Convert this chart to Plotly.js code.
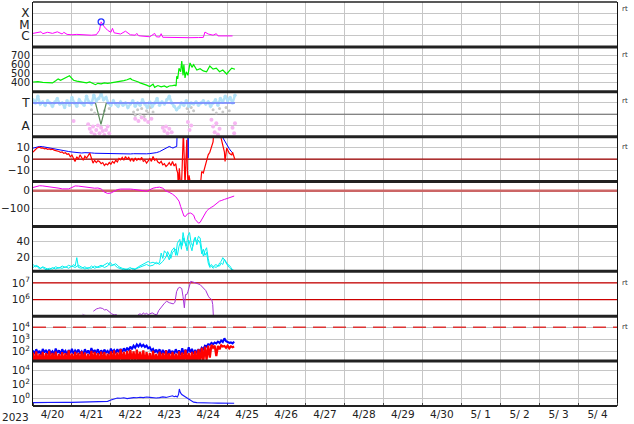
<!DOCTYPE html>
<html><head><meta charset="utf-8">
<script src="https://cdn.plot.ly/plotly-3.0.1.min.js"></script>
<style>html,body{margin:0;padding:0;background:#fff}#chart{width:634px;height:424px}</style>
</head><body><div id="chart"></div>
<script>
// ---- time: hours since 2023-04-20 00:00 ----
const startDate = '2023-04-20';
const endDate = '2023-05-05';
const yearLabel = '2023';

// Panel 1: X-ray flux (W/m2)
const xrayH = [0,3,5,6,9,12,15,18,19,21,24,27,30,33,36,39,41,42,44,46,48,49,50,54,57,60,63,64,65,66,69,72,75,76,78,79,80,84,90,96,102,105,106,108,111,113,114,117,120,123];
const xrayV = [1.6e-6,1.8e-6,2.2e-6,1.5e-6,2.0e-6,1.6e-6,2.2e-6,1.4e-6,2.0e-6,1.3e-6,1.2e-6,1.3e-6,1.2e-6,1.1e-6,1.1e-6,1.2e-6,3e-6,1.7e-5,6e-6,3e-6,2e-6,4.5e-6,1.8e-6,1.4e-6,2.5e-6,1.2e-6,1.1e-6,1.6e-6,1.0e-6,0.95e-6,0.9e-6,0.8e-6,1.6e-6,0.8e-6,0.75e-6,1.5e-6,0.72e-6,0.68e-6,0.66e-6,0.66e-6,0.68e-6,0.7e-6,2.1e-6,1.4e-6,1.1e-6,1.5e-6,0.95e-6,0.92e-6,0.9e-6,0.95e-6];
const flareH = [42];
const flareV = [1.7e-5];
const xrayTicks = [1e-6,1e-5,1e-4];
const xrayClasses = ['C','M','X'];

// Panel 2: solar wind speed (km/s)
const windH = [0,3,6,9,12,14,15.5,17,19,21,22.5,23.5,25,27,29,31,33,35,37,38.5,40,42,44,46,48,50,52,54,56,58,60,61,63,65,66,68,70,72,74,75,77,79,81,82.5,84,86,87.5,88.2,88.6,89.2,90,91,91.7,92.5,93,93.7,94.5,95.5,96.8,98,99,101,103,105,107,109,111,113,115,117,119.4,121,122.5,124.5];
const windV = [405,410,400,400,395,420,440,425,445,460,475,455,425,415,410,400,395,405,390,375,390,385,395,390,395,400,405,410,420,430,445,430,420,405,395,385,370,355,380,345,365,350,360,345,360,365,370,360,470,440,560,520,640,480,600,450,520,480,620,570,600,540,555,530,520,585,550,560,520,540,495,530,560,548];

// Panel 3: IMF sector (T / A)
const imfH = [0,1.5,3,4.5,6,7.5,9,10.5,12,13.5,15,16.5,18,19.5,21,22.5,24,25.5,27,28.5,30,31.5,33,34.5,36,37.5,39,40.5,42,43.5,45,46.5,48,49.5,51,52.5,54,55.5,57,58.5,60,61.5,63,64.5,66,67.5,69,70.5,72,73.5,75,76.5,78,79.5,81,82.5,84,85.5,87,88.5,90,91.5,93,94.5,96,97.5,99,100.5,102,103.5,105,106.5,108,109.5,111,112.5,114,115.5,117,118.5,120,121.5,123,124.5];
const imfV = [3.3,3.0,3.6,2.9,3.1,2.8,3.2,3.0,2.7,3.1,3.4,2.9,3.0,2.6,3.2,2.8,3.5,3.0,2.7,3.3,3.0,2.8,3.6,3.1,2.9,3.7,3.2,3.4,3.8,3.3,3.5,3.0,2.8,3.2,2.9,2.7,3.1,2.8,3.0,2.6,2.9,3.2,2.7,3.0,2.8,3.3,2.9,2.6,3.1,2.7,3.0,3.4,2.8,3.1,2.9,3.3,3.6,3.0,2.7,2.4,2.6,3.0,2.8,3.2,2.7,3.0,2.9,3.1,2.8,3.0,3.2,2.9,3.1,2.7,3.0,3.3,2.8,3.4,3.1,3.6,3.2,3.5,3.0,3.7];
const sectorH = [0,38.5,40,45.2,124.5];
const sectorV = [3,3,null,3,3];
const dipH = [38.5,41.9,45.2];
const dipV = [3,1.1,3];
const greyH = [36,38,44,47,62,63,64.5,66,67,68.5,70,71,72.5,74,95,96,97.5,99,111,113,115,117,119,121];
const greyV = [2.4,2.1,2.3,2.5,2.2,1.9,2.4,2.0,2.5,1.8,2.3,2.1,2.6,2.2,2.5,2.2,2.6,2.3,2.4,2.1,2.5,2.2,2.6,2.3];
const pinkH = [25,34,35,36,37,38,39,40,41,42,43,44,45,46,47,63,65,67,69,71,73,80,81,82,83,84,85.5,95.5,96.5,97.5,110,111,112,113,114,115,123,124,124.5];
const pinkV = [1.4,1.1,0.7,0.4,0.9,0.2,0.6,1.0,0.3,0.8,0.5,0.15,0.6,0.9,0.3,1.6,1.4,1.7,1.5,1.3,1.6,0.8,0.5,0.9,0.3,0.7,0.4,1.3,0.6,1.0,1.5,0.9,0.4,1.2,0.2,0.7,0.8,0.3,1.2];
const sectorBoundary = 2;

// Panel 4: IMF Bt / Bz (nT)
const btH = [0,2,4,6,8,10,12,14,16,18,20,22,24,26,28,30,32,34,36,38,40,42,44,46,48,50,52,54,56,58,60,62,64,66,68,70,72,74,76,78,80,82,84,85.5,86.3,87.5,88.6,88.9,90,92,94,95.4,95.6,95.8,98,100,102,104,106,108,110,112,114,116,117.5,119.4,121,122,123.3];
const btV = [9.5,10.5,11,10.8,10.2,9.8,9.2,8.6,8.1,7.5,7,6.6,6.2,5.8,5.4,5.3,5.6,5.8,5.4,5.1,5.0,4.8,4.7,4.6,4.8,4.5,4.7,4.6,4.4,4.6,4.5,4.7,4.6,4.4,4.5,4.6,4.8,5.0,5.6,6.5,8,9.5,11,10,9.6,10.5,11,25,27,30,28,26,1,26,28,30,29,28,27,26,25,24,23,21,17,12.4,9,7,5.2];
const bzH = [0,1,2,3,4,5,6,7,8,9,10,11,12,13,14,15,16,17,18,19,20,21,22,23,24,25,25.9,27,28,29,30,31,32,33,34,35,36,37,38,39,40,41,42,43,44,45,46,47,48,49,50,51,52,53,54,55,56,57,58,59,60,61,62,63,64,65,66,67,68,69,70,71,72,73,74,75,76,77,78,79,80,81,82,83,84,85,86,87,88,88.6,89.2,89.6,90.2,90.8,91.5,92,92.7,93.2,93.7,94.3,94.8,95.2,95.6,96.2,96.8,97.5,103,104,105,106,107,108,109,110,111,111.5,115.3,116,117.3,118,118.4,119,119.4,120,121,122,122.5,123,124,124.5];
const bzV = [6,8,9,10,10.4,9.5,9.8,9,9.3,8.5,8.8,8.2,8.7,7.8,7.5,7,6.6,5.8,6.2,5,5.5,4.2,4.6,2,3.5,0.5,-2.1,2,0,3.7,1,-1,2.5,0.9,3,5.2,1,-3.5,-1,-3,-1.5,-2.1,-4,-3,-5.5,-4,-5,-3,-4.5,-2,-3.5,-1,-2.5,0.5,-0.6,1.5,-1,2.3,0,1.5,-1.5,0.5,-2.1,1,-1,0.5,-0.6,1.5,-2,-1,-3.5,-1,0.5,-2,2.3,-1,0,-2.5,-3.5,-2,-5,-4,-6.4,-5,-3,-5.5,-2.1,-6,-4,-9.3,-12,-25,-8,-20,-25,-5,25,2,-25,0,16.8,-10,-25,-14,-18,-25,-25,-10.8,-12,-6.4,-2,3.7,6,11,15,25,25,18,11,6,-2,8,9.6,8,5,4,3.7,6,2,-0.6];

// Panel 5: Dst (nT)
const dstH = [0,2,4,6,8,10,12,14,16,18,20,22,24,26,28,30,32,34,36,38,40,42,44,46,48,50,52,54,56,58,60,62,64,66,68,70,72,74,76,78,80,82,84,86,88,90,91,92,93,94,95,96,97,98,99,100,101,102,103,104,105,106,107,108,109,110,111,112,113,114,115,116,117,118,119,120,121,122,123,124];
const dstV = [18,24,28,27,25,22,21,18,14,10,9,10,18,27,26,24,20,16,15,14,15,10,-8,-16,-14,-2,6,9,10,10,9,7,6,5,0,-4,5,14,18,20,14,-2,-10,-20,-35,-60,-90,-120,-145,-148,-135,-130,-128,-133,-140,-165,-178,-186,-182,-165,-145,-128,-117,-108,-100,-95,-90,-82,-75,-68,-60,-57,-52,-50,-47,-43,-40,-36,-33,-31];

// Panel 6: cyan index (two series)
const cyanAH = [0,1.5,3,4.5,6,8,10,12,14,16,18,20,22,24,25,26,27,28,30,32,34,36,38,40,42,44,46,47.5,49,51,53,55,57,59,61,63,65,67,69,71,72.5,74,76,78,79,80,81,82.5,84,85.5,87,88,89,90.5,91.5,92.5,93.5,94.5,95.5,96.5,97.5,98.5,99.5,101,102,103,104,105,106,107,108,109,110,111,112,113,114,115,116,117,118,119,120,121,122,123,124];
const cyanAV = [10,7,8,5,6,3,5,4,7,5,8,6,9,7,10,8,19,6,5,7,4,8,5,7,9,6,8,13,9,11,7,5,4,3,5,4,7,9,11,14,12,13,11,12,25,18,28,24,16,28,32,22,38,43,30,52,40,34,48,52,38,34,44,40,47,45,30,21,28,32,18,8,10,7,9,10,7,12,14,19,16,14,10,9,6,3,2];
const cyanBH = [0,2,4,6,8,10,12,14,16,18,20,22,24,26,28,30,32,34,36,38,40,42,44,46,48,50,52,54,56,58,60,62,64,66,68,70,72,74,76,78,80,82,83,84,85,86,88,89,90,91,92,93,94,95,96,97,98,99,100,101,102,103,104,105,106,107,108,109,110,111,112,113,114,115,116,117,118,119,120,121,122,123];
const cyanBV = [6,9,4,7,5,3,6,4,6,5,7,5,8,6,9,6,4,6,5,8,6,7,10,12,8,10,6,4,3,4,6,3,5,6,8,10,8,9,13,10,14,20,27,22,18,26,30,22,34,40,35,45,38,28,42,36,28,40,46,36,42,38,24,30,22,26,12,6,8,5,7,6,9,8,12,10,17,12,8,6,4,2];

// Panel 7: electron flux
const elecH = [30.6,31.5,32.1,34,37.2,38,39.3,40.5,41.3,43,44,45.4,46.5,47.5,48.5,50,51.6,58,64.9,66,67,68,69,70,71,72.1,73.5,75,76.3,77.5,79.3,81,82.4,84,86.5,87.5,88.5,89.6,90.5,91.7,92.5,93.3,94,94.8,95.5,96.5,97.2,98.5,100.9,103,105,106.5,108.1,109,110.2,110.8,111.2];
const elecV = [1.3e5,1.1e5,1.2e5,null,2e5,2.3e5,2.8e5,3.0e5,3.2e5,2.9e5,2.4e5,2.5e5,2.0e5,1.6e5,1.4e5,1.2e5,1.25e5,null,1.25e5,1.4e5,1.2e5,1.6e5,1.3e5,1.5e5,1.25e5,1.4e5,1.6e5,1.3e5,1.2e5,2.2e5,4e5,6e5,8e5,6.5e5,5.5e5,7e5,3e6,5e6,5.5e6,4.6e6,1.5e6,3.2e5,2.0e6,2.0e6,3e6,8e6,1.25e7,1.15e7,1.0e7,8e6,5e6,3.5e6,1.6e6,1.2e6,1e6,5e5,1e5];
const elecLevels = [1e6,1e7];

// Panel 8: particle flux (blue, red)
const p8H = [0,1,2,3,4,5,6,7,8,9,10,11,12,13,14,15,16,17,18,19,20,21,22,23,24,25,26,27,28,29,30,31,32,33,34,35,36,37,38,39,40,41,42,43,44,45,46,47,48,49,50,51,52,53,54,55,56,57,58,59,60,61,62,63,64,65,66,67,68,69,70,71,72,73,74,75,76,77,78,79,80,81,82,83,84,85,86,87,88,89,90,91,92,93,94,95,96,97,98,99,100,101,102,103,104,105,106,107,108,109,110,111,112,113,114,115,116,117,118,119,120,121,122,123,124];
const p8Blue = [120,60,150,70,110,50,160,80,130,60,
 140,70,100,55,170,75,120,60,150,80,
 110,50,130,70,160,60,120,80,140,65,
 100,55,150,70,120,60,190,80,130,70,
 150,60,120,75,140,80,110,60,170,90,
 130,70,150,85,160,90,180,100,200,120,
 250,150,300,200,380,250,400,260,350,230,
 300,180,220,120,160,80,140,70,150,60,
 130,70,120,55,140,65,110,60,150,70,
 120,50,180,60,140,70,220,80,160,60,
 130,70,150,80,200,150,300,250,400,350,
 500,400,550,450,650,500,800,600,1200,700,
 600,500,550,450,650];
const p8Red = [80,8,100,10,60,12,90,8,70,10,
 110,9,75,10,95,8,60,12,85,10,
 70,8,120,10,65,9,90,12,75,8,
 100,10,80,9,60,8,110,10,90,12,
 70,8,95,10,85,9,65,12,100,10,
 120,8,80,10,150,12,90,9,110,10,
 130,15,100,10,140,12,90,10,120,8,
 85,10,70,9,110,12,60,8,95,10,
 75,9,120,10,70,8,90,12,65,10,
 100,8,80,10,130,12,70,9,90,10,
 110,8,150,10,200,15,250,20,300,30,
 350,200,300,40,280,150,320,250,280,200,
 300,180,260,220,250];
const p8Threshold = 1e4;

// Panel 9: flux (blue)
const p9H = [0,4,8,12,16,20,24,28,32,36,40,44,46,48,50,52,54,56,58,60,62,64,66,68,70,72,74,76,78,80,82,84,86,87,88,89,89.7,90.2,90.8,91.7,93,94.8,96,97.8,99,101,104,107,110,114,118,122,124];
const p9V = [0.3,0.32,0.3,0.33,0.31,0.34,0.32,0.33,0.35,0.34,0.36,0.38,0.45,0.7,1.0,1.3,1.2,1.4,1.1,1.3,1.5,1.4,1.7,1.5,1.8,1.6,1.4,1.3,1.5,1.9,1.6,2.2,2.7,2.0,2.4,1.8,4,24,8,4,2.5,1.3,0.9,0.45,0.35,0.3,0.27,0.25,0.26,0.25,0.24,0.25,0.24];

// ---------------- drawing ----------------
const NP = 9;
const T0 = Date.UTC(2023, 3, 20);
function toTime(hours) { return hours.map(h => T0 + h * 3600000); }
const FONT = 'DejaVu Sans, sans-serif';
const GRID = '#c6c6c6';
const traces = [];
function add(h, y, ax, color, width, extra) {
  traces.push(Object.assign({type:'scatter', mode:'lines', x:toTime(h), y:y, xaxis:'x', yaxis:ax,
    line:{color:color, width:width}, hoverinfo:'skip', connectgaps:false}, extra || {}));
}
function hline(v, ax, color, width, dash) {
  traces.push({type:'scatter', mode:'lines', x:[startDate, endDate], y:[v, v], xaxis:'x', yaxis:ax,
    line:{color:color, width:width, dash:dash || 'solid'}, hoverinfo:'skip'});
}
function dots(h, y, ax, color, size) {
  traces.push({type:'scatter', mode:'markers', x:toTime(h), y:y, xaxis:'x', yaxis:ax,
    marker:{color:color, size:size, line:{width:0}}, hoverinfo:'skip'});
}

// panel 1
add(xrayH, xrayV, 'y', '#ff00ff', 1);
traces.push({type:'scatter', mode:'markers', x:toTime(flareH), y:flareV, xaxis:'x', yaxis:'y',
  marker:{symbol:'circle-open', size:6, color:'#2233ff', line:{width:1.3, color:'#2233ff'}}, hoverinfo:'skip'});
// panel 2
add(windH, windV, 'y2', '#00ee00', 1.2);
// panel 3
hline(sectorBoundary, 'y3', '#6a6a6a', 1);
dots(greyH, greyV, 'y3', '#c8c8c8', 3);
dots(pinkH, pinkV, 'y3', '#f6b6f2', 4);
add(imfH, imfV, 'y3', '#b2e2f8', 2.5, {mode:'lines+markers', marker:{size:3.5, color:'#b2e2f8'}});
add(sectorH, sectorV, 'y3', '#6f7cff', 1.5);
add(dipH, dipV, 'y3', '#5b8a5b', 1.2);
// panel 4
hline(0, 'y4', '#a00000', 1.2);
add(btH, btV, 'y4', '#0000ff', 1);
add(bzH, bzV, 'y4', '#ff0000', 1.2);
// panel 5
hline(0, 'y5', '#cc6666', 2.5);
add(dstH, dstV, 'y5', '#ee00ee', 1);
// panel 6
add(cyanBH, cyanBV, 'y6', '#00eeee', 1);
add(cyanAH, cyanAV, 'y6', '#00eeee', 1);
// panel 7
elecLevels.forEach(v => hline(v, 'y7', '#cc0000', 1.3));
add(elecH, elecV, 'y7', '#a633d6', 1);
// panel 8
hline(p8Threshold, 'y8', '#dd3333', 1.5, '13px,7px');
add(p8H, p8Blue, 'y8', '#0000ff', 2);
add(p8H, p8Red, 'y8', '#ff0000', 2.2);
// panel 9
add(p9H, p9V, 'y9', '#1a1aff', 1.1);

function dom(i) { return [1 - (i + 1) / NP, 1 - i / NP]; }
function yax(i, o) {
  return Object.assign({domain:dom(i), anchor:'x', showline:true, mirror:true, linecolor:'#111', linewidth:1,
    showgrid:true, gridcolor:GRID, gridwidth:1, zeroline:false, ticks:'', layer:'below traces',
    tickfont:{size:10.5, color:'#222'}}, o);
}
function sup(n) { return '10<sup>' + n + '</sup>'; }

const layout = {
  width:634, height:424, margin:{l:33, r:17, t:2, b:18},
  paper_bgcolor:'#ffffff', plot_bgcolor:'#ffffff', showlegend:false,
  font:{family:FONT, size:11, color:'#222'},
  xaxis:{type:'date', range:[startDate, endDate], anchor:'y9', tickmode:'linear', tick0:startDate, dtick:86400000,
    tickformat:'%-m/%e', ticklabelmode:'period', showgrid:true, gridcolor:GRID, gridwidth:1, zeroline:false,
    layer:'below traces', ticks:'inside', ticklen:3, tickcolor:'#444', showline:false, tickfont:{size:10.5, color:'#222'}},
  yaxis: yax(0, {type:'log', range:[-7, -3], tickmode:'array', tickvals:xrayTicks, ticktext:xrayClasses, tickfont:{size:12, color:'#222'}}),
  yaxis2: yax(1, {range:[295, 800], tickmode:'array', tickvals:[400,500,600,700], tickfont:{size:10, color:'#222'}}),
  yaxis3: yax(2, {range:[0, 4], tickmode:'array', tickvals:[1,2,3], ticktext:['A','','T'], tickfont:{size:12, color:'#222'}}),
  yaxis4: yax(3, {range:[-19.5, 19.5], tickmode:'array', tickvals:[-10,0,10], ticktext:['\u221210','0','10']}),
  yaxis5: yax(4, {range:[-205, 52], tickmode:'array', tickvals:[-100,0], ticktext:['\u2212100','0']}),
  yaxis6: yax(5, {range:[1, 60], tickmode:'array', tickvals:[20,40]}),
  yaxis7: yax(6, {type:'log', range:[5, 7.7], tickmode:'array', tickvals:[1e6,1e7], ticktext:[sup(6), sup(7)]}),
  yaxis8: yax(7, {type:'log', range:[1.19, 4.92], tickmode:'array', tickvals:[1e2,1e3,1e4], ticktext:[sup(2), sup(3), sup(4)]}),
  yaxis9: yax(8, {type:'log', range:[-1, 5.29], tickmode:'array', tickvals:[1,1e2,1e4], ticktext:[sup(0), sup(2), sup(4)]}),
  shapes: [],
  annotations: []
};
for (let k = 1; k < NP; k++) {
  layout.shapes.push({type:'line', xref:'paper', yref:'paper', x0:0, x1:1, y0:k/NP, y1:k/NP, line:{color:'#222', width:3}});
}
layout.shapes.push({type:'line', xref:'paper', yref:'paper', x0:0, x1:1, y0:1, y1:1, line:{color:'#222', width:1.5}});
layout.shapes.push({type:'line', xref:'paper', yref:'paper', x0:0, x1:1, y0:0, y1:0, line:{color:'#222', width:2}});

// "rt" markers at right edge of several panels
const rtPanels = [0.983, 0.869, 0.755, 0.641, 0.304, 0.196];
rtPanels.forEach(y => layout.annotations.push({xref:'paper', yref:'paper', x:1, y:y, xanchor:'left', yanchor:'middle',
  xshift:3, text:'rt', showarrow:false, font:{size:7, color:'#333'}}));
layout.annotations.push({xref:'paper', yref:'paper', x:0, y:0, xanchor:'right', yanchor:'top', xshift:-2, yshift:-3,
  text:yearLabel, showarrow:false, font:{size:10.5, color:'#222'}});

Plotly.newPlot('chart', traces, layout, {displayModeBar:false});
</script>
</body></html>
